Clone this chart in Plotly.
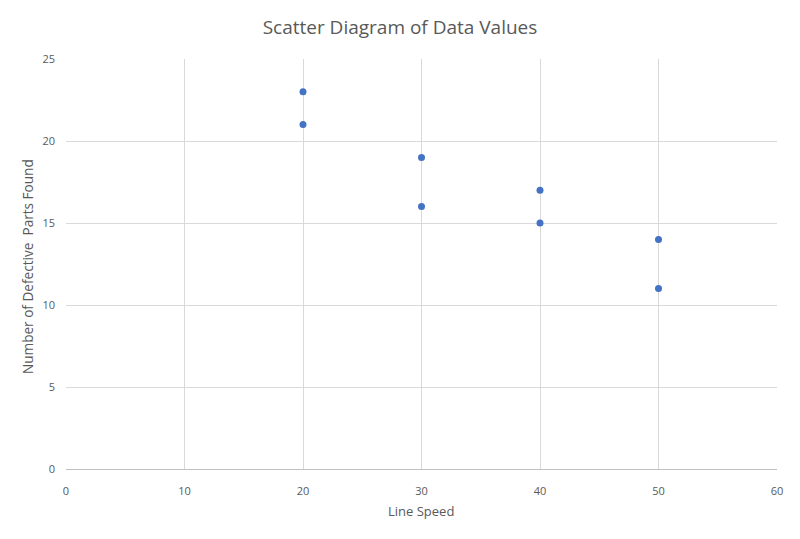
import plotly.graph_objects as go

line_speed = [20, 20, 30, 30, 40, 40, 50, 50]
defective_parts = [23, 21, 19, 16, 17, 15, 14, 11]
x_ticks = [0, 10, 20, 30, 40, 50, 60]
y_ticks = [0, 5, 10, 15, 20, 25]

FONT = "Open Sans"
GRAY = "#595959"

fig = go.Figure()
fig.add_trace(go.Scatter(
    x=line_speed, y=defective_parts, mode="markers",
    marker=dict(size=7, color="#4472C4"),
    showlegend=False,
))

fig.update_layout(
    width=800, height=539,
    margin=dict(l=66, r=23, t=59, b=70),
    paper_bgcolor="white", plot_bgcolor="white",
    font=dict(family=FONT, color=GRAY, size=11),
    title=dict(text="Scatter Diagram of Data Values", x=0.5, xanchor="center",
               xref="container", y=1 - 27 / 539, yanchor="middle", yref="container",
               font=dict(family=FONT, size=19, color=GRAY)),
    xaxis=dict(range=[0, 60], tickvals=x_ticks, showgrid=True, gridcolor="#d9d9d9",
               gridwidth=1, zeroline=False, showline=True, linecolor="#bfbfbf",
               linewidth=1, ticks="", ticklabelstandoff=12,
               tickfont=dict(size=11, color=GRAY)),
    yaxis=dict(range=[0, 25], tickvals=y_ticks, showgrid=True, gridcolor="#d9d9d9",
               gridwidth=1, zeroline=False, showline=False, ticks="",
               ticklabelstandoff=10, tickfont=dict(size=11, color=GRAY)),
    annotations=[
        dict(text="Line Speed", xref="paper", yref="paper", x=(421 - 66) / 711,
             y=-(511 - 469) / 410, xanchor="center", yanchor="middle",
             showarrow=False, font=dict(family=FONT, size=13, color=GRAY)),
        dict(text="Number of Defective  Parts Found", xref="paper", yref="paper",
             x=-(66 - 27) / 711, y=(469 - 267) / 410, xanchor="center",
             yanchor="middle", textangle=-90, showarrow=False,
             font=dict(family=FONT, size=13.6, color=GRAY)),
    ],
)

fig.write_html("out.html")
